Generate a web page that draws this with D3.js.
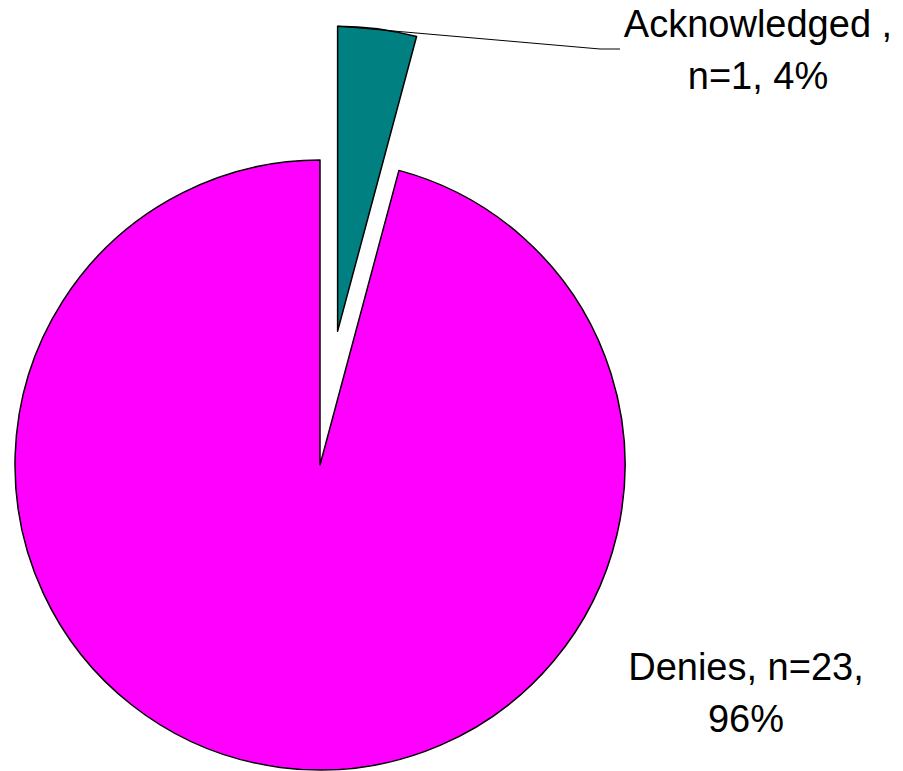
<!DOCTYPE html>
<html>
<head>
<meta charset="utf-8">
<script src="https://cdn.jsdelivr.net/npm/d3@7"></script>
<style>
  html, body { margin: 0; padding: 0; background: #fff; }
  svg { display: block; }
  .lbl { font-family: "Liberation Sans", Arial, sans-serif; font-size: 38px; fill: #000; }
</style>
</head>
<body>
<div id="chart"></div>
<script>
// data
const categories = ["Acknowledged", "Denies"];
const counts = [1, 23];
const percents = [4, 96];
const sliceColors = ["#008080", "#FF00FF"];
const exploded = [135, 0];   // pixels pulled out from the centre
const labelLines = [
  ["Acknowledged ,", "n=1, 4%"],
  ["Denies, n=23,", "96%"]
];

const width = 903, height = 771;
const cx = 320, cy = 465, radius = 305;

const svg = d3.select("#chart").append("svg")
  .attr("width", width)
  .attr("height", height);

const data = categories.map((c, i) => ({ name: c, n: counts[i], pct: percents[i], color: sliceColors[i], explode: exploded[i] }));

// clockwise from 12 o'clock, like the original
const pie = d3.pie().sort(null).value(d => d.n);
const arc = d3.arc().innerRadius(0).outerRadius(radius);
const arcs = pie(data);

const g = svg.append("g").attr("transform", `translate(${cx},${cy})`);

function offsetOf(d) {
  const mid = (d.startAngle + d.endAngle) / 2;
  return [Math.sin(mid) * d.data.explode, -Math.cos(mid) * d.data.explode];
}

g.selectAll("path.slice")
  .data(arcs)
  .enter().append("path")
  .attr("class", "slice")
  .attr("d", arc)
  .attr("transform", d => { const o = offsetOf(d); return `translate(${o[0]},${o[1]})`; })
  .attr("fill", d => d.data.color)
  .attr("stroke", "#000")
  .attr("stroke-width", 1.5)
  .attr("stroke-linejoin", "round");

// label positions (text centre, first baseline)
const labelPos = [[758, 37], [746, 680]];
const lineGap = 52;

svg.selectAll("text.lbl")
  .data(arcs)
  .enter().append("text")
  .attr("class", "lbl")
  .attr("text-anchor", "middle")
  .each(function(d, i) {
    const t = d3.select(this);
    labelLines[i].forEach((ln, j) => {
      t.append("tspan")
        .attr("x", labelPos[i][0])
        .attr("y", labelPos[i][1] + j * lineGap)
        .text(ln);
    });
  });

// leader line for the small exploded slice
const ack = arcs[0];
const o = offsetOf(ack);
const start = [cx + o[0] + Math.sin(ack.startAngle) * radius, cy + o[1] - Math.cos(ack.startAngle) * radius];
svg.append("path")
  .attr("d", d3.line()([start, [600, 49], [620, 49]]))
  .attr("fill", "none")
  .attr("stroke", "#000")
  .attr("stroke-width", 1);
</script>
</body>
</html>
